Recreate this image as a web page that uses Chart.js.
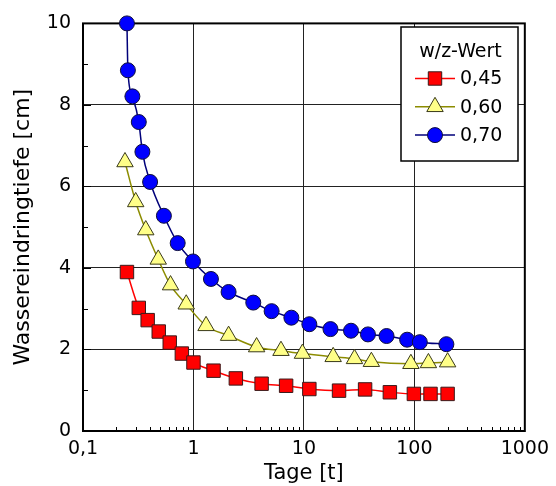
<!DOCTYPE html>
<html>
<head>
<meta charset="utf-8">
<script src="https://cdn.jsdelivr.net/npm/chart.js@4.4.1/dist/chart.umd.min.js"></script>
<style>
  html, body { margin: 0; padding: 0; background: #fff; }
</style>
</head>
<body>
<canvas id="chart" width="556" height="486"></canvas>
<script>
// Values (days, penetration depth in cm)
const seriesLabels = ['0,45', '0,60', '0,70'];

const daysRed = [0.25, 0.32, 0.385, 0.485, 0.61, 0.785, 1.0, 1.52, 2.42, 4.14, 6.9, 11.2, 20.8, 35.8, 60, 99, 140, 200];
const depthRed = [3.90, 3.02, 2.72, 2.44, 2.17, 1.90, 1.68, 1.48, 1.29, 1.16, 1.11, 1.03, 0.99, 1.02, 0.95, 0.91, 0.91, 0.91];

const daysYellow = [0.24, 0.30, 0.37, 0.48, 0.62, 0.86, 1.30, 2.08, 3.73, 6.2, 9.7, 18.4, 28.7, 40.8, 93, 134, 200];
const depthYellow = [6.60, 5.62, 4.93, 4.21, 3.58, 3.11, 2.58, 2.34, 2.06, 1.97, 1.90, 1.82, 1.77, 1.70, 1.65, 1.67, 1.69];

const daysBlue = [0.25, 0.255, 0.28, 0.32, 0.345, 0.405, 0.54, 0.72, 0.99, 1.44, 2.08, 3.48, 5.1, 7.7, 11.2, 17.4, 26.7, 38, 56, 86, 112, 195];
const depthBlue = [10.0, 8.85, 8.21, 7.58, 6.85, 6.11, 5.28, 4.61, 4.16, 3.73, 3.41, 3.15, 2.94, 2.78, 2.62, 2.50, 2.46, 2.37, 2.33, 2.24, 2.18, 2.13];

const xDecades = [0.1, 1, 10, 100, 1000];
const yMajor = [0, 2, 4, 6, 8, 10];

const FONT = '"DejaVu Sans", sans-serif';

function pairs(xs, ys) {
    return xs.map((x, i) => ({ x: x, y: ys[i] }));
}

const styles = [
    { line: '#ff0000', fill: '#ff0000', border: '#3a1a1a', point: 'rect', radius: 9.5 },
    { line: '#8c8c00', fill: '#ffff88', border: '#3a3a1a', point: 'triangle', radius: 9.5 },
    { line: '#00007a', fill: '#0000ff', border: '#10103a', point: 'circle', radius: 7.5 }
];

const dataSets = [pairs(daysRed, depthRed), pairs(daysYellow, depthYellow), pairs(daysBlue, depthBlue)];

// frame + inward minor ticks, drawn under the markers
const framePlugin = {
    id: 'frame',
    beforeDatasetsDraw(chart) {
        const ctx = chart.ctx;
        const a = chart.chartArea;
        const xs = chart.scales.x, ys = chart.scales.y;
        ctx.save();
        ctx.strokeStyle = '#000';
        ctx.lineWidth = 1;
        // x minor ticks
        for (let d = 0.1; d < 1000; d *= 10) {
            for (let k = 2; k <= 9; k++) {
                const px = Math.round(xs.getPixelForValue(d * k)) + 0.5;
                ctx.beginPath();
                ctx.moveTo(px, a.bottom);
                ctx.lineTo(px, a.bottom - 4);
                ctx.stroke();
            }
        }
        // y minor ticks
        for (let v = 1; v < 10; v += 2) {
            const py = Math.round(ys.getPixelForValue(v)) + 0.5;
            ctx.beginPath();
            ctx.moveTo(a.left, py);
            ctx.lineTo(a.left + 5, py);
            ctx.stroke();
        }
        // y major ticks
        yMajor.forEach(v => {
            const py = Math.round(ys.getPixelForValue(v)) + 0.5;
            ctx.beginPath();
            ctx.moveTo(a.left, py);
            ctx.lineTo(a.left + 8, py);
            ctx.stroke();
        });
        ctx.lineWidth = 2;
        ctx.strokeRect(a.left, a.top, a.right - a.left, a.bottom - a.top);
        ctx.restore();
    }
};

// legend box like the original (line through marker)
const legendPlugin = {
    id: 'boxLegend',
    afterDraw(chart) {
        const ctx = chart.ctx;
        const bx = 401, by = 27, bw = 117, bh = 134;
        ctx.save();
        ctx.fillStyle = '#fff';
        ctx.fillRect(bx, by, bw, bh);
        ctx.strokeStyle = '#000';
        ctx.lineWidth = 1.5;
        ctx.strokeRect(bx, by, bw, bh);
        ctx.fillStyle = '#000';
        ctx.font = '19px ' + FONT;
        ctx.textAlign = 'center';
        ctx.textBaseline = 'middle';
        ctx.fillText('w/z-Wert', bx + bw / 2 + 1, by + 25);
        ctx.textAlign = 'left';
        styles.forEach((s, i) => {
            const y = by + 51.5 + i * 28.3;
            ctx.strokeStyle = s.line;
            ctx.lineWidth = 1.5;
            ctx.beginPath();
            ctx.moveTo(415, y);
            ctx.lineTo(455, y);
            ctx.stroke();
            ctx.fillStyle = s.fill;
            ctx.strokeStyle = s.border;
            ctx.lineWidth = 1;
            Chart.helpers.drawPoint(ctx, { pointStyle: s.point, radius: s.radius, rotation: 0, borderWidth: 1 }, 435, y);
            ctx.fillStyle = '#000';
            ctx.fillText(seriesLabels[i], 460, y + 1);
        });
        ctx.restore();
    }
};

new Chart(document.getElementById('chart'), {
    type: 'line',
    data: {
        datasets: dataSets.map((d, i) => ({
            label: seriesLabels[i],
            data: d,
            borderColor: styles[i].line,
            borderWidth: 1.5,
            backgroundColor: styles[i].fill,
            pointBackgroundColor: styles[i].fill,
            pointBorderColor: styles[i].border,
            pointBorderWidth: 1,
            pointStyle: styles[i].point,
            pointRadius: styles[i].radius,
            cubicInterpolationMode: 'monotone',
            fill: false,
            clip: false
        }))
    },
    options: {
        responsive: false,
        animation: false,
        layout: { padding: { left: 0, top: 20, right: 28, bottom: 0 } },
        plugins: {
            legend: { display: false },
            tooltip: { enabled: false }
        },
        scales: {
            x: {
                type: 'logarithmic',
                min: 0.1,
                max: 1000,
                afterBuildTicks: s => { s.ticks = xDecades.map(v => ({ value: v })); },
                afterFit: s => { s.height = 55; },
                grid: { color: '#222', lineWidth: 1, drawTicks: false },
                border: { display: false },
                ticks: {
                    color: '#000',
                    font: { family: FONT, size: 19 },
                    padding: 7,
                    maxRotation: 0,
                    callback: v => String(v).replace('.', ',')
                },
                title: {
                    display: true,
                    text: 'Tage [t]',
                    color: '#000',
                    font: { family: FONT, size: 21 },
                    padding: { top: 0, bottom: 0 }
                }
            },
            y: {
                min: 0,
                max: 10,
                afterBuildTicks: s => { s.ticks = yMajor.map(v => ({ value: v })); },
                afterFit: s => { s.width = 83; },
                grid: { color: '#222', lineWidth: 1, drawTicks: false },
                border: { display: false },
                ticks: {
                    color: '#000',
                    font: { family: FONT, size: 19 },
                    padding: 12
                },
                title: {
                    display: true,
                    text: 'Wassereindringtiefe [cm]',
                    color: '#000',
                    font: { family: FONT, size: 22 },
                    padding: { top: 10, bottom: 0 }
                }
            }
        }
    },
    plugins: [framePlugin, legendPlugin]
});
</script>
</body>
</html>
